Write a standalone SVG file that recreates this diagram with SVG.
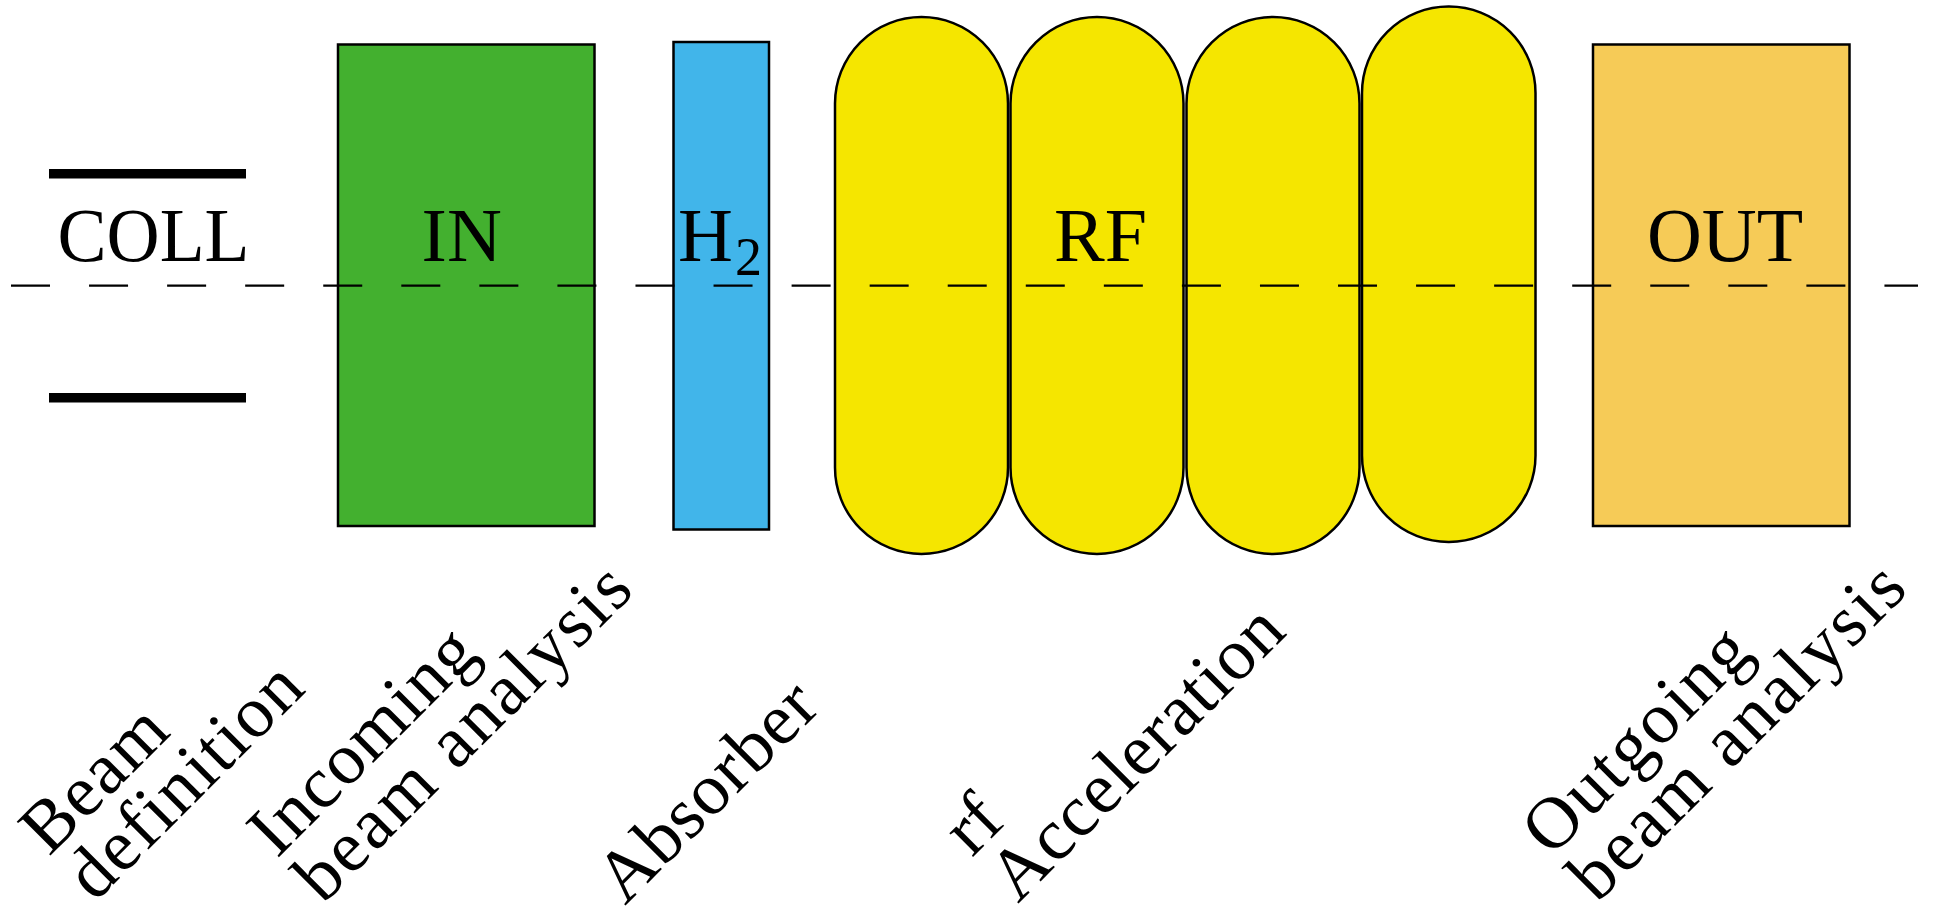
<svg xmlns="http://www.w3.org/2000/svg" width="1936" height="909" viewBox="0 0 1936 909">
<style>
  .box { stroke: #000; stroke-width: 2.5; }
  .cap { fill: #f5e600; stroke: #000; stroke-width: 2.5; }
  .bar { fill: #000; }
  .lbl { font-family: "Liberation Serif", "Times New Roman", serif; font-size: 76px; fill: #000; }
  .rot { font-family: "Liberation Serif", "Times New Roman", serif; font-size: 73px; fill: #000; }
  .axis { stroke: #000; stroke-width: 2.2; stroke-dasharray: 39 39.06; fill: none; }
</style>
<rect width="1936" height="909" fill="#fff"/>

<g id="coll">
  <rect class="bar" x="49" y="169" width="197" height="9.5"/>
  <rect class="bar" x="49" y="393" width="197" height="9.5"/>
  <text class="lbl" x="153.5" y="261" text-anchor="middle" textLength="192" lengthAdjust="spacingAndGlyphs">COLL</text>
</g>

<g id="in">
  <rect class="box" x="338" y="44.5" width="256.5" height="481.5" fill="#43b02f"/>
  <text class="lbl" x="461.7" y="261" text-anchor="middle">IN</text>
</g>

<g id="h2">
  <rect class="box" x="673.5" y="42" width="95.5" height="487.5" fill="#41b5ea"/>
  <text class="lbl" x="678" y="261">H<tspan x="735" y="275" font-size="54">2</tspan></text>
</g>

<g id="rf">
  <rect class="cap" x="835" y="17" width="173" height="537" rx="86.5" ry="86.5"/>
  <rect class="cap" x="1010.5" y="17" width="173" height="537" rx="86.5" ry="86.5"/>
  <rect class="cap" x="1186.5" y="17" width="173" height="537" rx="86.5" ry="86.5"/>
  <rect class="cap" x="1362" y="6.5" width="173.5" height="535.5" rx="86.5" ry="86.5"/>
  <text class="lbl" x="1100.5" y="261" text-anchor="middle">RF</text>
</g>

<g id="out">
  <rect class="box" x="1593" y="44.5" width="256.5" height="481.5" fill="#f6cb57"/>
  <text class="lbl" x="1725" y="261" text-anchor="middle">OUT</text>
</g>

<g id="connectors">
  <line class="axis" x1="11" y1="285.7" x2="1918" y2="285.7"/>
</g>

<g id="label-beam-definition">
  <text class="rot" transform="translate(49,857) rotate(-45)"><tspan x="0" y="0" textLength="174">Beam</tspan><tspan x="0" y="65" textLength="300">definition</tspan></text>
</g>
<g id="label-incoming">
  <text class="rot" transform="translate(277,859) rotate(-45)"><tspan x="0" y="0" textLength="288">Incoming</tspan><tspan x="0" y="65" textLength="442">beam analysis</tspan></text>
</g>
<g id="label-absorber">
  <text class="rot" transform="translate(625,906) rotate(-45)" textLength="278">Absorber</text>
</g>
<g id="label-rf">
  <text class="rot" transform="translate(972,858) rotate(-45)"><tspan x="0" y="0">rf</tspan><tspan x="0" y="65" textLength="382">Acceleration</tspan></text>
</g>
<g id="label-outgoing">
  <text class="rot" transform="translate(1551,858) rotate(-45)"><tspan x="0" y="0" textLength="288">Outgoing</tspan><tspan x="0" y="65" textLength="442">beam analysis</tspan></text>
</g>
</svg>
